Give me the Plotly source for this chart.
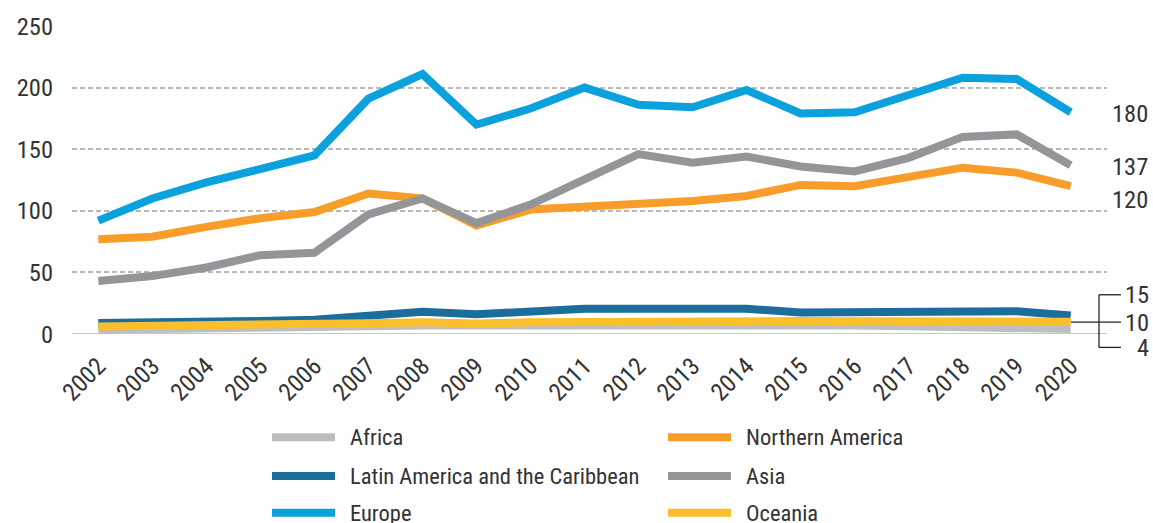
import plotly.graph_objects as go

years = [2002, 2003, 2004, 2005, 2006, 2007, 2008, 2009, 2010, 2011,
         2012, 2013, 2014, 2015, 2016, 2017, 2018, 2019, 2020]

africa = [3.5, 3.8, 4.2, 4.7, 5.3, 6.2, 7, 7, 7.5, 7.8, 8, 8, 8, 7.8, 7, 6.3, 5.7, 5, 4]
northern_america = [77, 79, 87, 94, 99, 114, 110, 88, 101, 103, 105, 108, 112, 121, 120, 128, 135, 131, 120]
latin_america = [9, 9, 9.5, 10.5, 11.5, 15, 18, 16, 19, 20.5, 20.5, 20.5, 20.5, 17.5, 18, 19, 19.5, 18.5, 15]
asia = [43, 47, 54, 64, 66, 97, 110, 90, 105, 126, 146, 139, 144, 136, 132, 143, 160, 162, 137]
europe = [92, 110, 123, 134, 145, 191, 211, 170, 183, 200, 186, 184, 198, 179, 180, 194, 208, 207, 180]
oceania = [6, 6.3, 6.7, 7.2, 7.9, 8.8, 9.5, 8.5, 9.5, 10, 10.3, 10.5, 10.5, 10.5, 10.3, 10.2, 10.2, 10, 10]

series_names = ["Africa", "Northern America", "Latin America and the Caribbean",
                "Asia", "Europe", "Oceania"]
series_values = [africa, northern_america, latin_america, asia, europe, oceania]
series_colors = ["#bcbec0", "#f89d2a", "#1b6d9b", "#939598", "#0ba1dd", "#fbbf2c"]

y_ticks = [0, 50, 100, 150, 200, 250]

FONT = "Liberation Sans Narrow, Arial Narrow, Roboto Condensed, sans-serif"
TXT = "#333333"
NUM_SIZE = 24.5
LEG_SIZE = 22.5

W, H = 1153, 523
ML, MR, MT, MB = 72, 46, 24, 189
PW = W - ML - MR
PH = H - MT - MB


def px_x(px):
    return (px - ML) / PW


def px_y(py):
    return (H - MB - py) / PH


fig = go.Figure()
for name, vals, col in zip(series_names, series_values, series_colors):
    fig.add_trace(go.Scatter(x=years, y=vals, mode="lines", name=name,
                             line=dict(color=col, width=8), showlegend=False,
                             hoverinfo="x+y+name"))

shapes = []
annotations = []

# solid baseline at zero
shapes.append(dict(type="line", xref="paper", yref="y", x0=0, x1=1, y0=0, y1=0,
                   line=dict(color="#c8c8c8", width=2), layer="below"))

num_font = dict(family=FONT, size=NUM_SIZE, color=TXT)

# right end labels for large series
annotations.append(dict(x=px_x(1150), xref="paper", y=europe[-1], yref="y",
                        text=str(round(europe[-1])), showarrow=False, xanchor="right",
                        yanchor="middle", yshift=-1, font=num_font))
annotations.append(dict(x=px_x(1150), xref="paper", y=asia[-1], yref="y",
                        text=str(round(asia[-1])), showarrow=False, xanchor="right",
                        yanchor="middle", yshift=-1, font=num_font))
annotations.append(dict(x=px_x(1150), xref="paper", y=northern_america[-1], yref="y",
                        text=str(round(northern_america[-1])), showarrow=False, xanchor="right",
                        yanchor="middle", yshift=-13, font=num_font))

# bracket for small series
bx = px_x(1099)
bx2 = px_x(1121)
yt, ym, yb = px_y(294.5), px_y(322), px_y(347.5)
line_style = dict(color="#222222", width=1.3)
shapes.append(dict(type="line", xref="paper", yref="paper", x0=bx, x1=bx, y0=yt, y1=yb, line=line_style))
shapes.append(dict(type="line", xref="paper", yref="paper", x0=bx, x1=bx2, y0=yt, y1=yt, line=line_style))
shapes.append(dict(type="line", xref="paper", yref="paper", x0=bx, x1=bx2, y0=yb, y1=yb, line=line_style))
shapes.append(dict(type="line", xref="paper", yref="paper", x0=px_x(1071), x1=bx2, y0=ym, y1=ym, line=line_style))
for val, yy in [(latin_america[-1], 294.5), (oceania[-1], 322), (africa[-1], 347.5)]:
    annotations.append(dict(x=px_x(1151), xref="paper", y=px_y(yy), yref="paper",
                            text=str(round(val)), showarrow=False, xanchor="right",
                            yanchor="middle", font=num_font))

# custom legend (two columns, row-wise)
col_x = [272, 668]
row_y = [438, 477, 514]
for i, (name, col) in enumerate(zip(series_names, series_colors)):
    cx = col_x[i % 2]
    ry = row_y[i // 2]
    shapes.append(dict(type="line", xref="paper", yref="paper",
                       x0=px_x(cx), x1=px_x(cx + 63), y0=px_y(ry), y1=px_y(ry),
                       line=dict(color=col, width=8)))
    annotations.append(dict(x=px_x(cx + 76), xref="paper", y=px_y(ry), yref="paper",
                            text=name, showarrow=False, xanchor="left", yanchor="middle",
                            font=dict(family=FONT, size=LEG_SIZE, color=TXT)))

fig.update_layout(
    width=W, height=H,
    margin=dict(l=ML, r=MR, t=MT, b=MB),
    plot_bgcolor="white", paper_bgcolor="white",
    font=dict(family=FONT, size=NUM_SIZE, color=TXT),
    shapes=shapes, annotations=annotations,
    showlegend=False,
)
fig.update_xaxes(range=[2001.513, 2020.672], tickmode="array", tickvals=years,
                 ticktext=[str(y) for y in years], tickangle=-45,
                 showgrid=False, zeroline=False, showline=False, ticks="",
                 tickfont=num_font, ticklabelstandoff=12)
fig.update_yaxes(range=[0, 250], tickmode="array", tickvals=y_ticks,
                 showgrid=True, gridcolor="#b8b8b8", gridwidth=1.5, griddash="5px,3px",
                 zeroline=False, showline=False, ticks="",
                 tickfont=num_font, ticklabelstandoff=18)

fig.write_html("out.html", config={"displayModeBar": False},
               post_script="document.body.style.margin='0';")
